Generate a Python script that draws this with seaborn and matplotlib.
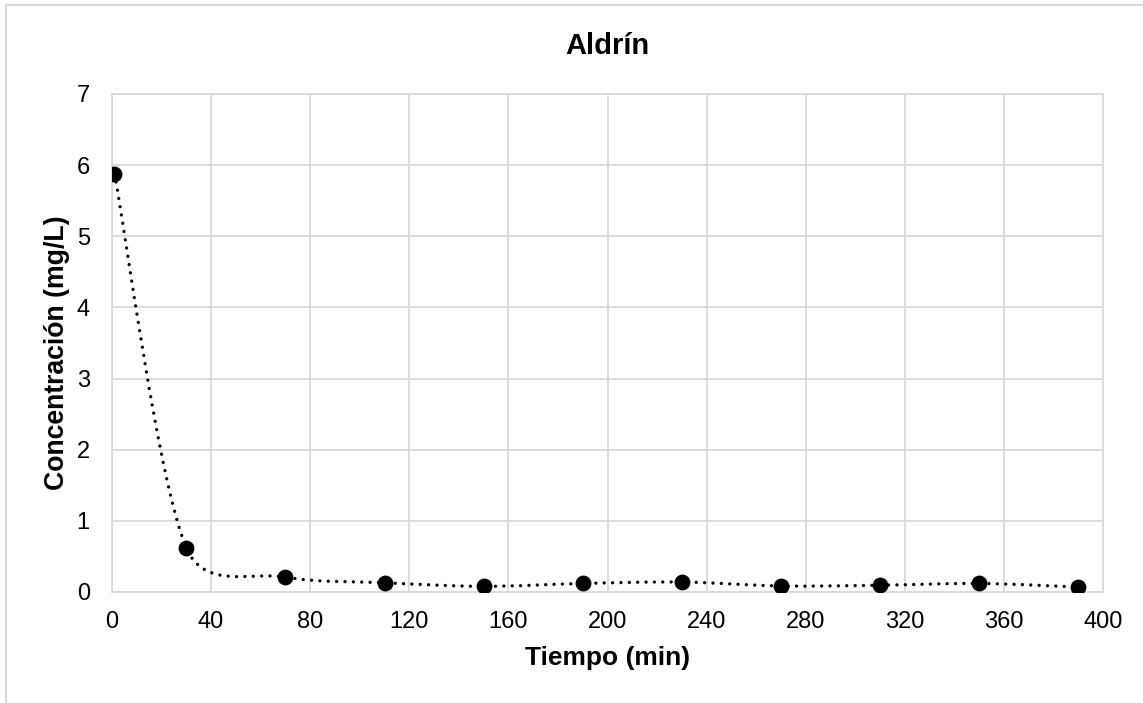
import numpy as np
import pandas as pd
import matplotlib
matplotlib.use("Agg")
import matplotlib.pyplot as plt
from matplotlib.path import Path
from matplotlib.patches import PathPatch, Rectangle
import seaborn as sns

# ---- data ----
tiempo = [1, 30, 70, 110, 150, 190, 230, 270, 310, 350, 390]
concentracion = [5.88, 0.62, 0.21, 0.13, 0.08, 0.12, 0.14, 0.085, 0.095, 0.12, 0.07]
x_ticks = [0, 40, 80, 120, 160, 200, 240, 280, 320, 360, 400]
y_ticks = [0, 1, 2, 3, 4, 5, 6, 7]
title = "Aldrín"
x_label = "Tiempo (min)"
y_label = "Concentración (mg/L)"

df = pd.DataFrame({"Tiempo": tiempo, "Concentracion": concentracion})

sns.set_theme(style="white")
plt.rcParams["font.family"] = ["Liberation Sans", "DejaVu Sans"]

W, H = 1143, 703
fig = plt.figure(figsize=(W / 100, H / 100), dpi=100)
ax = fig.add_axes([112 / W, 1 - 592 / H, (1103 - 112) / W, (592 - 94) / H])

grid_c = "#d9d9d9"

ax.set_xlim(0, 400)
ax.set_ylim(0, 7)

# Smoothed (Excel-style) connecting line: Bezier path through the data points.
# Handles = tangent/6, capped relative to the adjacent chord (display space).
disp = ax.transData.transform(np.column_stack([tiempo, concentracion]).astype(float))
n = len(disp)


def handle(i, direction):
    prev_p = disp[i - 1] if i > 0 else disp[i]
    next_p = disp[i + 1] if i < n - 1 else disp[i]
    h = (next_p - prev_p) / 6.0
    other = next_p if direction > 0 else prev_p
    chord = np.linalg.norm(other - disp[i])
    L = np.linalg.norm(h)
    cap = 0.45 * chord
    if L > cap and L > 0:
        h = h * cap / L
    return h


verts_d = [disp[0]]
codes = [Path.MOVETO]
for i in range(n - 1):
    c1 = disp[i] + handle(i, +1)
    c2 = disp[i + 1] - handle(i + 1, -1)
    verts_d += [c1, c2, disp[i + 1]]
    codes += [Path.CURVE4] * 3
verts = ax.transData.inverted().transform(np.array(verts_d))
patch = PathPatch(Path(verts, codes), facecolor="none", edgecolor="black",
                  lw=2.4, linestyle=(0, (0.01, 2.5)), capstyle="round", zorder=3)
ax.add_patch(patch)

sns.scatterplot(data=df, x="Tiempo", y="Concentracion", ax=ax, color="black",
                s=130, edgecolor="black", linewidth=0, zorder=4, legend=False)

ax.set_xlim(0, 400)
ax.set_ylim(0, 7)
ax.set_xticks(x_ticks)
ax.set_yticks(y_ticks)
ax.set_xticklabels([str(v) for v in x_ticks])
ax.set_yticklabels([str(v) for v in y_ticks])
ax.grid(True, color=grid_c, lw=1.3)
ax.set_axisbelow(True)
for s in ax.spines.values():
    s.set_color(grid_c)
    s.set_linewidth(1.3)
ax.tick_params(axis="both", length=0, labelsize=17, colors="black")
ax.tick_params(axis="x", pad=14)
ax.tick_params(axis="y", pad=16)

ax.set_xlabel("")
ax.set_ylabel("")
fig.text(607.5 / W, 1 - 658 / H, x_label, ha="center", va="center",
         fontsize=19, fontweight="bold", color="black")
fig.text(57.5 / W, 1 - 353 / H, y_label, ha="center", va="center", rotation=90,
         fontsize=19.2, fontweight="bold", color="black")
fig.text(607.5 / W, 1 - 46 / H, title, ha="center", va="center",
         fontsize=21, fontweight="bold", color="black")

# outer chart border (partially visible at top/left)
fig.patches.append(Rectangle((5.5 / W, -0.2), 1.5, 1.2 - 4.5 / H, transform=fig.transFigure,
                             fill=False, edgecolor=grid_c, lw=1.5, zorder=0))

fig.savefig("out.png", dpi=100, facecolor="white")
